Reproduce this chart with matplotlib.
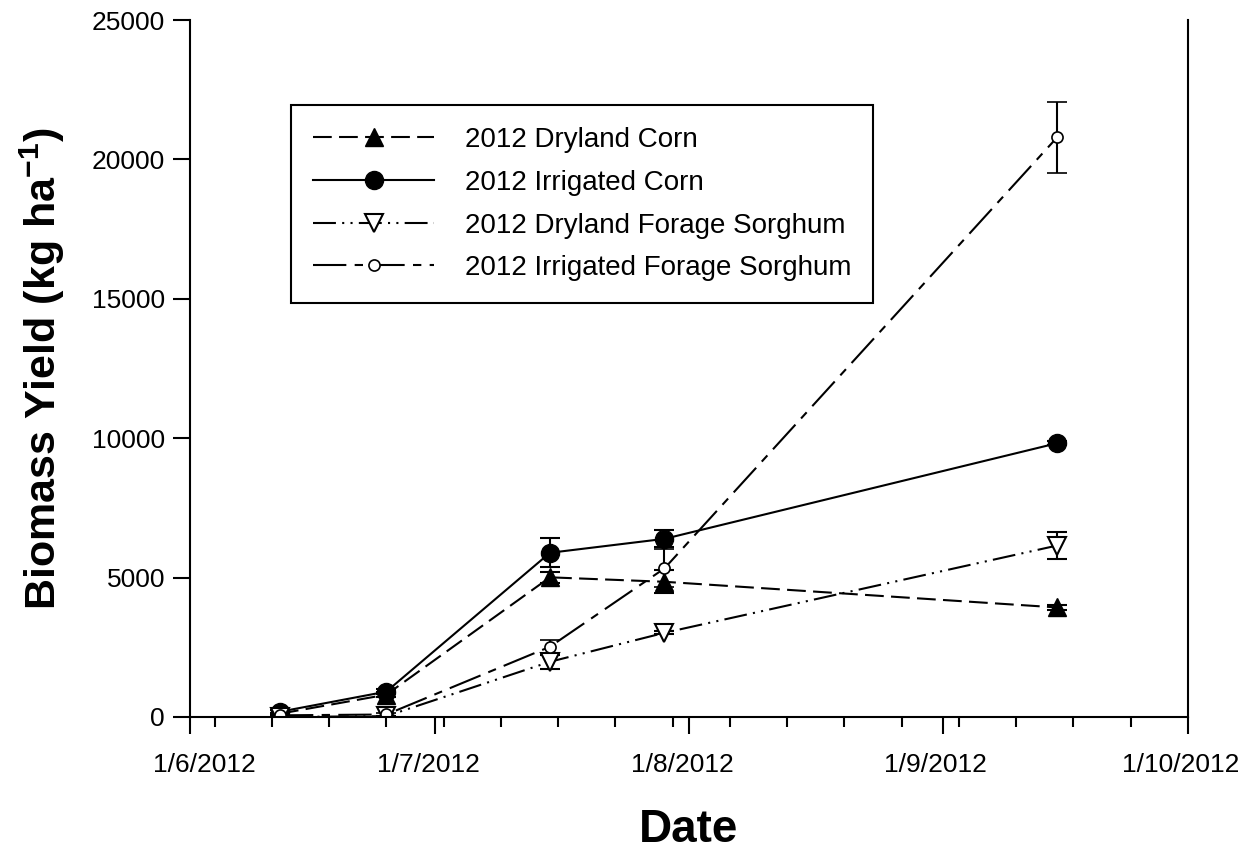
import numpy as np
import pandas as pd
import matplotlib
matplotlib.use("Agg")
import matplotlib.pyplot as plt
import matplotlib.dates as mdates
import matplotlib.transforms as mtrans

plt.rcParams['font.family'] = ['Liberation Sans', 'DejaVu Sans']
plt.rcParams['mathtext.fontset'] = 'custom'
plt.rcParams['mathtext.rm'] = 'Liberation Sans'
plt.rcParams['mathtext.bf'] = 'Liberation Sans:bold'

# sampling dates (d/m/yyyy on the axis)
dates = pd.to_datetime(["2012-06-12", "2012-06-25", "2012-07-15", "2012-07-29", "2012-09-15"])

dryCorn = [120, 800, 5010, 4850, 3930]
dryCornErr = [30, 80, 200, 420, 100]
irrCorn = [190, 910, 5890, 6390, 9820]
irrCornErr = [60, 100, 520, 300, 80]
drySorg = [0, 30, 1980, 3020, 6150]
drySorgErr = [20, 20, 250, 60, 480]
irrSorg = [60, 90, 2520, 5330, 20790]
irrSorgErr = [30, 40, 240, 680, 1280]

labels = ["2012 Dryland Corn", "2012 Irrigated Corn",
          "2012 Dryland Forage Sorghum", "2012 Irrigated Forage Sorghum"]

fig = plt.figure(figsize=(12.52, 8.5), dpi=100)
ax = fig.add_axes([190 / 1252, 1 - 717 / 850, 998 / 1252, 697 / 850])

lw = 1.5
eb = dict(ecolor='k', elinewidth=1.5, capsize=7, capthick=1.5)

l1 = ax.errorbar(dates, dryCorn, yerr=dryCornErr, color='k', lw=lw, marker='^', ms=13,
                 mfc='k', mec='k', dashes=(9, 3.5), **eb)
l2 = ax.errorbar(dates, irrCorn, yerr=irrCornErr, color='k', lw=lw, marker='o', ms=13,
                 mfc='k', mec='k', ls='-', **eb)
l3 = ax.errorbar(dates, drySorg, yerr=drySorgErr, color='k', lw=lw, marker='v', ms=13,
                 mfc='white', mec='k', mew=1.5, dashes=(11, 3, 1, 3, 1, 3), **eb)
l4 = ax.errorbar(dates, irrSorg, yerr=irrSorgErr, color='k', lw=lw, marker='o', ms=8,
                 mfc='white', mec='k', mew=1.2, dashes=(16, 4, 4, 4), **eb)

ax.set_xlim(pd.Timestamp("2012-06-01"), pd.Timestamp("2012-10-01"))
ax.set_ylim(0, 25000)
ax.set_yticks([0, 5000, 10000, 15000, 20000, 25000])

ax.xaxis.set_major_locator(mdates.MonthLocator())
ax.xaxis.set_minor_locator(mdates.WeekdayLocator(byweekday=mdates.MO))
ax.xaxis.set_major_formatter(plt.FuncFormatter(
    lambda v, p: "%d/%d/%d" % (mdates.num2date(v).day, mdates.num2date(v).month, mdates.num2date(v).year)))

ax.spines['top'].set_visible(False)
for s in ['left', 'right', 'bottom']:
    ax.spines[s].set_linewidth(1.5)
ax.tick_params(axis='both', which='major', direction='out', length=12, width=1.5, labelsize=19)
ax.tick_params(axis='x', which='major', pad=14)
ax.tick_params(axis='y', which='major', pad=6)
ax.tick_params(axis='x', which='minor', direction='out', length=7, width=1.5)
ax.tick_params(axis='y', right=False)

# first date label sits a bit right of its tick, the rest a bit left
for i, t in enumerate(ax.xaxis.get_major_ticks()):
    dx = 14 if i == 0 else -7
    t.label1.set_transform(mtrans.offset_copy(t.label1.get_transform(), fig=fig, x=dx, units='dots'))

ax.set_xlabel("Date", fontsize=33, fontweight='bold', labelpad=22)
ax.set_ylabel("Biomass Yield (kg ha$^{\\mathbf{-1}}$)", fontsize=31, fontweight='bold', labelpad=18)

leg = ax.legend([l1[0], l2[0], l3[0], l4[0]], labels,
                loc='upper left', bbox_to_anchor=(291 / 1252, 1 - 105 / 850),
                bbox_transform=fig.transFigure, borderaxespad=0, fontsize=20, handlelength=4.35,
                handletextpad=1.1, labelspacing=0.6, borderpad=0.8, fancybox=False,
                framealpha=1, edgecolor='k')
leg.get_frame().set_linewidth(1.5)

plt.savefig("out.png", dpi=100)
